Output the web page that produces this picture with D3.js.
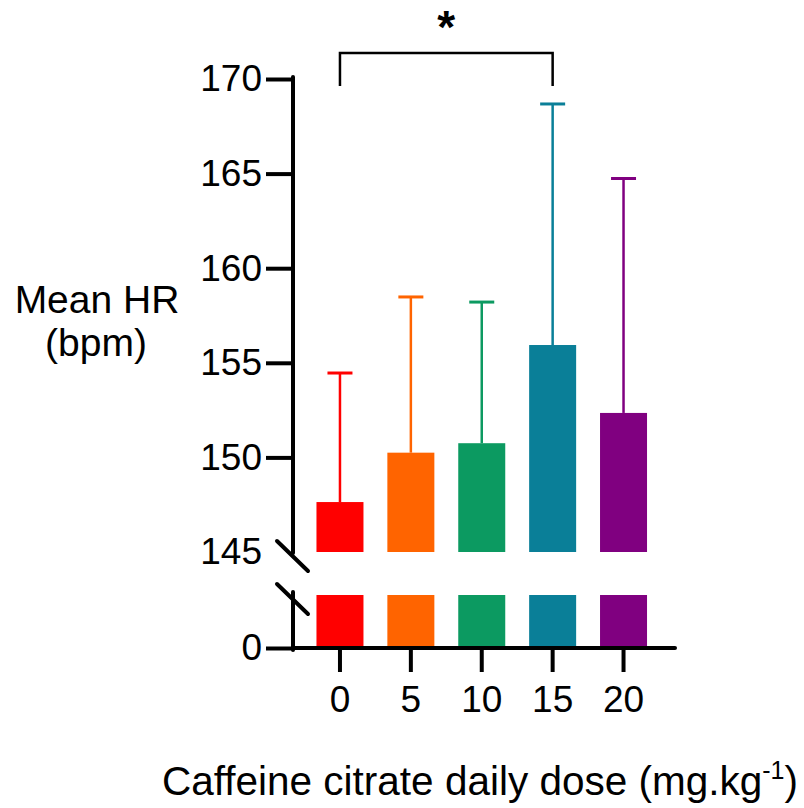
<!DOCTYPE html>
<html>
<head>
<meta charset="utf-8">
<script src="https://cdn.jsdelivr.net/npm/d3@7/dist/d3.min.js"></script>
<style>
  html, body { margin: 0; padding: 0; background: #fff; }
  svg { display: block; font-family: "Liberation Sans", Arial, Helvetica, sans-serif; }
</style>
</head>
<body>
<svg id="chart" width="804" height="808"></svg>
<script>
// ---- data ----
const doses = ["0", "5", "10", "15", "20"];
const meanHR = [147.64, 150.25, 150.75, 155.94, 152.35];
const sdHR = [6.82, 8.23, 7.46, 12.74, 12.39];
const barColors = ["#FF0000", "#FF6400", "#0C9A61", "#0A7F98", "#800080"];
const upperTicks = [145, 150, 155, 160, 165, 170];
const lowerTicks = [0];
const sigPair = ["0", "15"];
const sigLabel = "*";

const svg = d3.select("#chart");

// scales
const x = d3.scaleBand().domain(doses).range([295.2, 668.3]).paddingInner(0.337).paddingOuter(0.3);
const yUp = d3.scaleLinear().domain([145, 170]).range([552, 79]);
const lowTop = 1;
const yLow = d3.scaleLinear().domain([0, lowTop]).range([648, 595]);
const axisX = 293;

// bars - upper segment
svg.append("g").selectAll("rect").data(doses).join("rect")
  .attr("x", d => x(d))
  .attr("width", x.bandwidth())
  .attr("y", (d, i) => yUp(meanHR[i]))
  .attr("height", (d, i) => yUp(145) - yUp(meanHR[i]))
  .attr("fill", (d, i) => barColors[i]);

// bars - lower segment
svg.append("g").selectAll("rect").data(doses).join("rect")
  .attr("x", d => x(d))
  .attr("width", x.bandwidth())
  .attr("y", (d, i) => yLow(Math.min(meanHR[i], lowTop)))
  .attr("height", (d, i) => yLow(0) - yLow(Math.min(meanHR[i], lowTop)))
  .attr("fill", (d, i) => barColors[i]);

// error bars
const eb = svg.append("g");
doses.forEach((d, i) => {
  const cx = x(d) + x.bandwidth() / 2;
  const top = yUp(meanHR[i] + sdHR[i]);
  eb.append("line").attr("x1", cx).attr("x2", cx)
    .attr("y1", yUp(meanHR[i])).attr("y2", top)
    .attr("stroke", barColors[i]).attr("stroke-width", 2.5);
  eb.append("line").attr("x1", cx - 12.5).attr("x2", cx + 12.5)
    .attr("y1", top).attr("y2", top)
    .attr("stroke", barColors[i]).attr("stroke-width", 3);
});

// upper y axis
const gUp = svg.append("g").attr("transform", `translate(${axisX},0)`)
  .call(d3.axisLeft(yUp).tickValues(upperTicks).tickFormat(d3.format("d")).tickSize(27).tickPadding(4).tickSizeOuter(0));
gUp.select(".domain").remove();
gUp.selectAll(".tick line").attr("stroke", "#000").attr("stroke-width", 4)
  .filter(d => d === 145).remove();
gUp.selectAll(".tick text").attr("font-size", 37).attr("fill", "#000")
  .attr("font-family", "Liberation Sans, Arial, sans-serif");
svg.append("line").attr("x1", axisX).attr("x2", axisX)
  .attr("y1", yUp(170) - 2).attr("y2", yUp(145) + 1)
  .attr("stroke", "#000").attr("stroke-width", 4).attr("stroke-linecap", "round");

// lower y axis
const gLow = svg.append("g").attr("transform", `translate(${axisX},0)`)
  .call(d3.axisLeft(yLow).tickValues(lowerTicks).tickFormat(d3.format("d")).tickSize(27).tickPadding(4).tickSizeOuter(0));
gLow.select(".domain").remove();
gLow.selectAll(".tick line").attr("stroke", "#000").attr("stroke-width", 4);
gLow.selectAll(".tick text").attr("font-size", 37).attr("fill", "#000")
  .attr("font-family", "Liberation Sans, Arial, sans-serif");
svg.append("line").attr("x1", axisX).attr("x2", axisX)
  .attr("y1", yLow(lowTop) - 3).attr("y2", yLow(0) + 2)
  .attr("stroke", "#000").attr("stroke-width", 4).attr("stroke-linecap", "round");

// break marks
[yUp(145), yLow(lowTop)].forEach(yy => {
  svg.append("line").attr("x1", axisX - 16).attr("y1", yy - 11)
    .attr("x2", axisX + 15).attr("y2", yy + 19)
    .attr("stroke", "#000").attr("stroke-width", 4).attr("stroke-linecap", "round");
});

// x axis
const gX = svg.append("g").attr("transform", `translate(0,${yLow(0)})`)
  .call(d3.axisBottom(x).tickSize(24).tickPadding(14).tickSizeOuter(0));
gX.select(".domain").remove();
gX.selectAll(".tick line").attr("stroke", "#000").attr("stroke-width", 4);
gX.selectAll(".tick text").attr("font-size", 37).attr("fill", "#000")
  .attr("font-family", "Liberation Sans, Arial, sans-serif");
svg.append("line").attr("x1", axisX).attr("x2", 675)
  .attr("y1", yLow(0)).attr("y2", yLow(0))
  .attr("stroke", "#000").attr("stroke-width", 4).attr("stroke-linecap", "round");

// y title
const yt = svg.append("text").attr("text-anchor", "middle").attr("font-size", 39).attr("fill", "#000");
yt.append("tspan").attr("x", 97).attr("y", 313).text("Mean HR");
yt.append("tspan").attr("x", 96).attr("y", 356).text("(bpm)");

// x title
const xt = svg.append("text").attr("x", 480).attr("y", 795).attr("text-anchor", "middle")
  .attr("font-size", 40.5).attr("fill", "#000");
xt.append("tspan").text("Caffeine citrate daily dose (mg.kg");
xt.append("tspan").attr("font-size", 25).attr("dy", -16).text("-1");
xt.append("tspan").attr("dy", 16).text(")");

// significance bracket
const x1 = x(sigPair[0]) + x.bandwidth() / 2;
const x2 = x(sigPair[1]) + x.bandwidth() / 2;
svg.append("path")
  .attr("d", `M${x1},86 V53 H${x2} V86`)
  .attr("fill", "none").attr("stroke", "#000").attr("stroke-width", 2.5);
svg.append("text").attr("x", (x1 + x2) / 2).attr("y", 43).attr("text-anchor", "middle")
  .attr("font-size", 46).attr("font-weight", "bold").attr("fill", "#000").text(sigLabel);
</script>
</body>
</html>
